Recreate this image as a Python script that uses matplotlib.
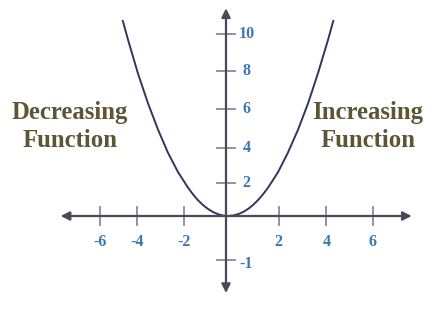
import matplotlib
matplotlib.use("Agg")
import matplotlib.pyplot as plt

# parabola
curve_x = [-4.31, -4.08, -3.67, -3.25, -2.83, -2.42, -2.0, -1.58, -1.375, -1.17, -0.96,
           -0.75, -0.54, -0.33, -0.125, 0.08, 0.29, 0.5, 0.71, 0.92, 1.125, 1.33, 1.54,
           1.75, 2.17, 2.58, 3.0, 3.42, 3.83, 4.25, 4.48]
curve_y = [10.89, 9.78, 7.92, 6.26, 4.79, 3.52, 2.44, 1.57, 1.2, 0.88, 0.61,
           0.39, 0.22, 0.1, 0.024, 0.0, 0.024, 0.1, 0.22, 0.39, 0.61, 0.88, 1.2,
           1.57, 2.44, 3.52, 4.79, 6.26, 7.92, 9.78, 10.89]

# tick marks as drawn (hand-spaced in the original)
xtick_pos = [-5.25, -3.7, -1.74, 2.2, 4.18, 6.11]
xtick_lab = ["-6", "-4", "-2", "2", "4", "6"]
ytick_pos = [-2.44, 1.82, 3.76, 5.93, 8.07, 10.09]
ytick_lab = ["-1", "2", "4", "6", "8", "10"]

axis_col = "#4d4858"
tick_col = "#8e8898"
lab_col = "#3b78b0"
txt_col = "#5c5634"
serif = ["Liberation Serif", "DejaVu Serif"]

fig = plt.figure(figsize=(4.4, 3.11), dpi=100)
ax = fig.add_axes([0, 0, 1, 1])
ax.set_xlim(-9.417, 8.917)
ax.set_ylim(-5.278, 12.0)
ax.axis("off")

# axes with arrows
arr = dict(arrowstyle="<|-|>", color=axis_col, lw=1.6, mutation_scale=13,
           shrinkA=0, shrinkB=0)
ax.annotate("", xy=(7.74, 0), xytext=(-6.89, 0), arrowprops=arr)
ax.annotate("", xy=(0, 11.54), xytext=(0, -4.28), arrowprops=arr)

# tick marks
for p in xtick_pos:
    ax.plot([p, p], [-0.5, 0.5], color=tick_col, lw=1.3)
for p in ytick_pos:
    ax.plot([-0.36, 0.36], [p, p], color=tick_col, lw=1.3)

for p, l in zip(xtick_pos, xtick_lab):
    ax.text(p, -1.45, l, color=lab_col, fontsize=11.5, fontweight="bold",
            family=serif, ha="center", va="center")
for p, l in zip(ytick_pos, ytick_lab):
    dy = -0.22 if p < 0 else 0
    ax.text(0.85, p + dy, l, color=lab_col, fontsize=11.5, fontweight="bold",
            family=serif, ha="center", va="center")

ax.plot(curve_x, curve_y, color="#30375f", lw=1.4, solid_capstyle="butt",
        solid_joinstyle="round")

ax.text(-6.5, 4.95, "Decreasing\nFunction", color=txt_col, fontsize=17.8,
        fontweight="bold", family=serif, ha="center", va="center", linespacing=1.27)
ax.text(5.92, 4.95, "Increasing\nFunction", color=txt_col, fontsize=17.8,
        fontweight="bold", family=serif, ha="center", va="center", linespacing=1.27)

fig.savefig("out.png", dpi=100)
